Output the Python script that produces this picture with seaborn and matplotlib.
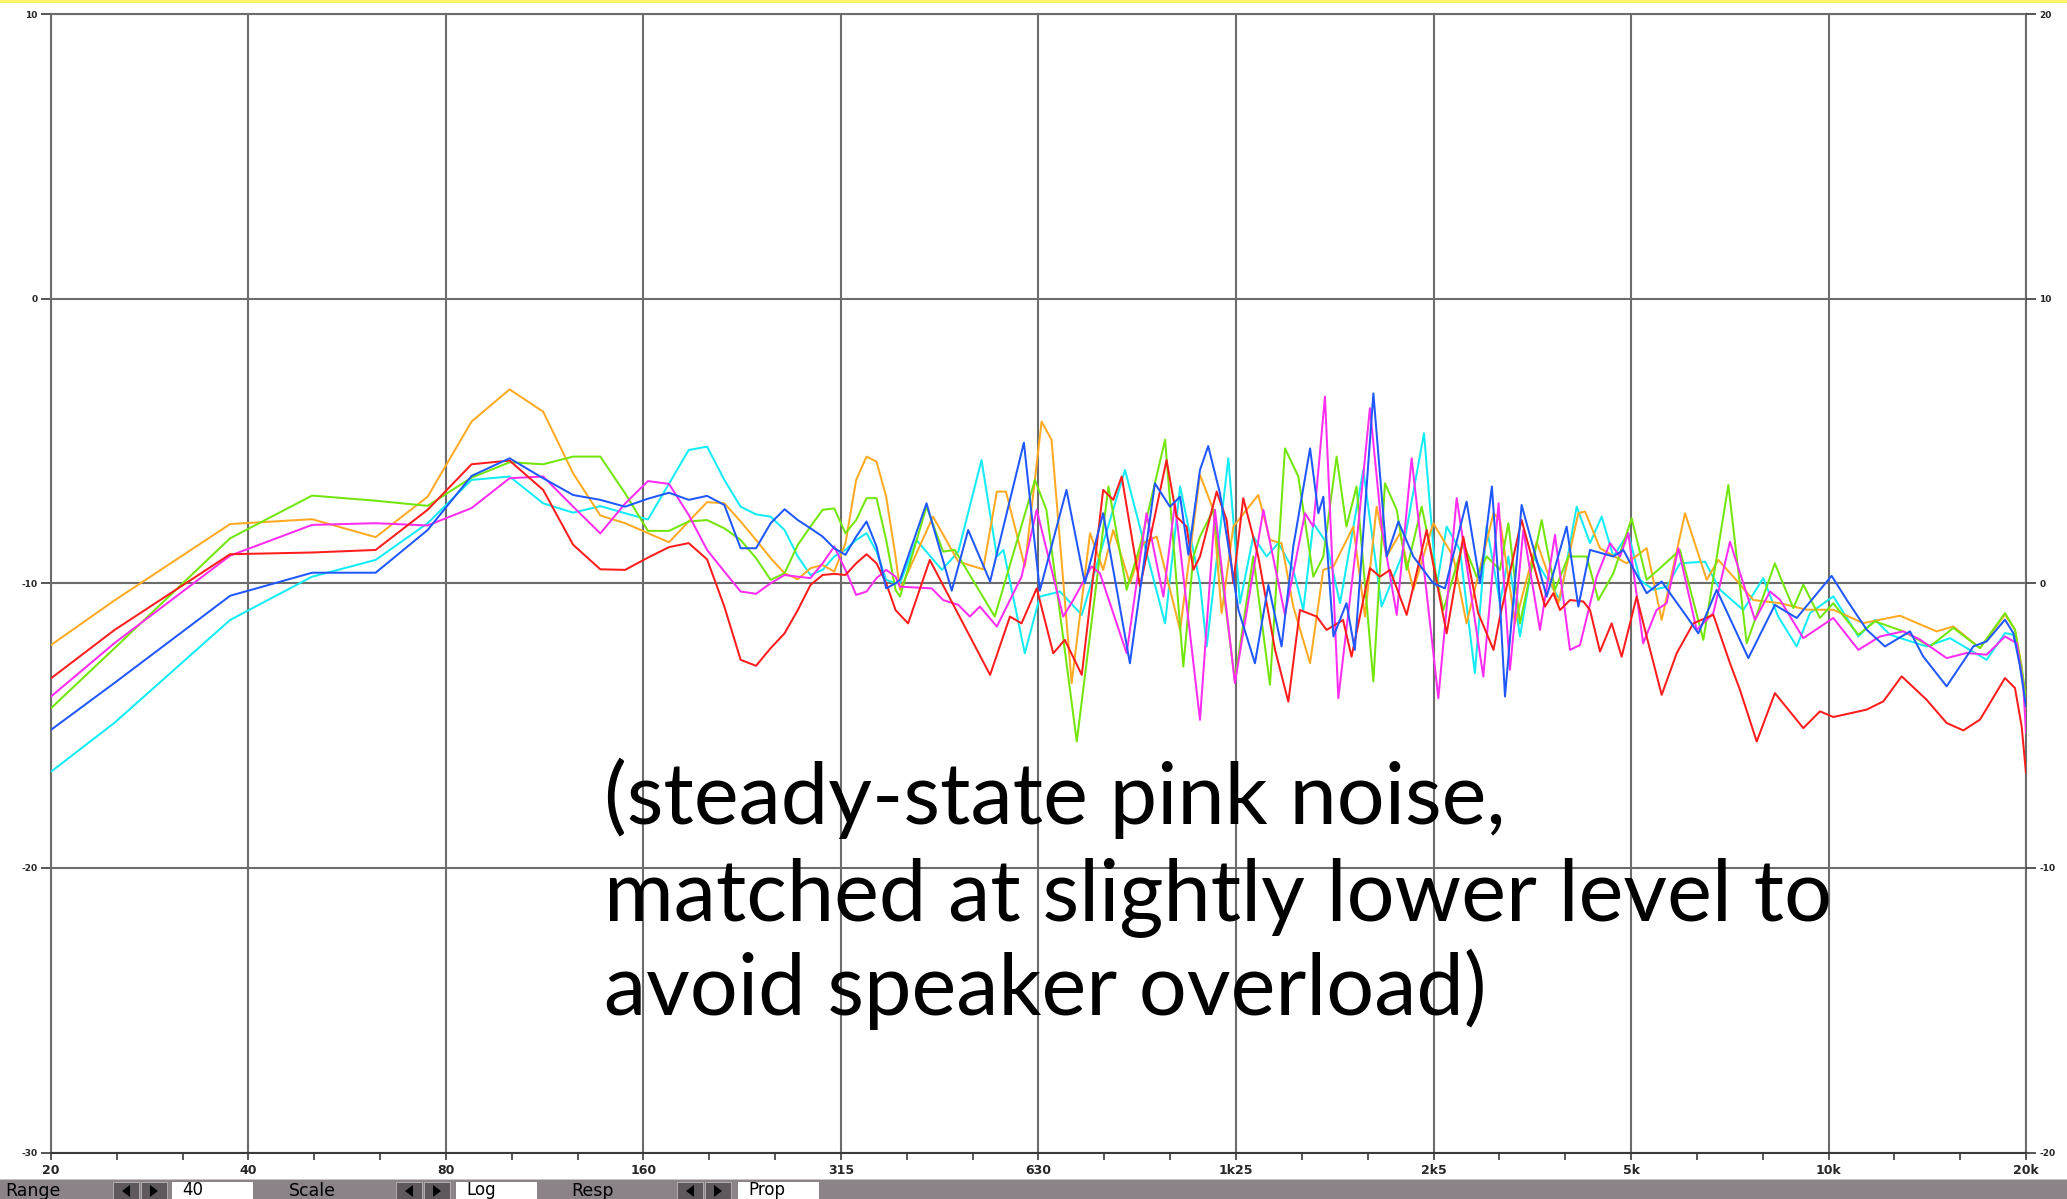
import matplotlib
matplotlib.use("Agg")
import matplotlib.pyplot as plt
from matplotlib.patches import Rectangle, Polygon
from matplotlib.ticker import FixedLocator, NullFormatter
import pandas as pd
import seaborn as sns

# ---------------- data ----------------
# low-frequency FFT bins (12.5 Hz spacing) shared by every trace
bin_hz = [20, 25, 37.5, 50, 62.5, 75, 87.5, 100, 112.5, 125, 137.5, 150, 162.5, 175,
          187.5, 200, 212.5, 225, 237.5, 250, 262.5, 275, 287.5, 300, 312.5, 325,
          337.5, 350, 362.5, 375, 387.5]

orange_low = [-12.17, -10.6, -7.92, -7.75, -8.38, -6.96, -4.32, -3.19, -3.97, -6.14, -7.62,
              -7.89, -8.24, -8.56, -7.83, -7.15, -7.19, -7.83, -8.48, -9.12, -9.65, -9.86,
              -9.47, -9.36, -9.59, -8.6, -6.37, -5.55, -5.73, -6.96, -9.06]
green_low = [-14.39, -12.28, -8.42, -6.92, -7.10, -7.28, -6.29, -5.75, -5.82, -5.55, -5.55,
             -6.84, -8.16, -8.16, -7.83, -7.78, -8.07, -8.48, -9.12, -9.88, -9.65, -8.65,
             -8.01, -7.42, -7.37, -8.24, -7.78, -7.01, -7.01, -8.48, -10.23]
red_low = [-13.34, -11.64, -8.98, -8.92, -8.83, -7.42, -5.82, -5.69, -6.72, -8.65, -9.51,
           -9.53, -9.1, -8.73, -8.59, -9.16, -10.82, -12.69, -12.9, -12.28, -11.76, -10.94,
           -10.06, -9.71, -9.67, -9.71, -9.3, -8.98, -9.3, -10.0, -10.94]
magenta_low = [-13.98, -12.1, -9.03, -7.95, -7.89, -7.97, -7.36, -6.31, -6.25, -7.31, -8.25,
               -7.2, -6.41, -6.51, -7.6, -8.83, -9.59, -10.29, -10.37, -10.0, -9.71, -9.77,
               -9.82, -9.3, -8.71, -9.53, -10.41, -10.29, -9.82, -9.53, -9.77]
blue_low = [-15.15, -13.5, -10.44, -9.63, -9.63, -8.13, -6.23, -5.61, -6.31, -6.9, -7.07,
            -7.31, -7.03, -6.82, -7.07, -6.93, -7.25, -8.77, -8.77, -7.89, -7.4, -7.78,
            -8.07, -8.36, -8.77, -9.0, -8.36, -7.83, -8.71, -10.18, -10.0]
cyan_low = [-16.62, -14.9, -11.29, -9.77, -9.18, -7.89, -6.37, -6.25, -7.19, -7.52, -7.29,
            -7.54, -7.76, -6.5, -5.32, -5.2, -6.37, -7.31, -7.58, -7.66, -8.13, -9.06,
            -9.71, -9.53, -9.06, -8.83, -8.48, -8.24, -8.89, -9.88, -10.0]

# smoothed response above ~390 Hz: turning points of each trace
orange_hi_hz = [393.6, 442, 483, 527, 553, 571, 610, 647, 670, 719, 767, 803, 832, 882, 925,
                969, 1052, 1102, 1128, 1182, 1217, 1268, 1384, 1442, 1502, 1565, 1660, 1739,
                1802, 1932, 2013, 2097, 2172, 2276, 2385, 2558, 2744, 2875, 3160, 3233, 3408,
                3677, 3968, 4256, 4357, 4592, 5042, 5409, 5702, 6189, 6677, 6957, 7332, 7866,
                8637, 9483, 10414, 11570, 13160, 14959, 15870, 17427, 19023, 19703, 20171, 20480]
orange_hi_db = [-10.23, -7.66, -9.24, -9.51, -6.78, -6.78, -9.41, -4.32, -4.96, -13.51, -8.24,
                -9.53, -8.13, -10.0, -8.59, -8.36, -11.64, -8.01, -6.19, -7.42, -11.05, -8.01,
                -6.9, -8.48, -8.59, -10.82, -12.81, -9.53, -9.41, -8.01, -11.17, -7.31, -9.06,
                -8.24, -10.23, -7.89, -9.06, -11.41, -7.54, -7.78, -11.41, -8.54, -10.7, -7.54,
                -7.48, -8.77, -9.3, -8.77, -11.29, -7.54, -9.88, -9.18, -9.77, -10.59, -10.7,
                -10.93, -10.93, -11.4, -11.14, -11.69, -11.52, -12.28, -11.1, -11.63, -12.92,
                -14.56]

green_hi_hz = [393.6, 432, 458, 477, 549, 632, 658, 732, 818, 872, 914, 998, 1064, 1102, 1128,
               1182, 1275, 1360, 1442, 1520, 1593, 1679, 1739, 1822, 1886, 1954, 2073, 2159,
               2250, 2330, 2456, 2650, 2842, 2979, 3086, 3233, 3329, 3468, 3742, 3921, 4109,
               4382, 4566, 4813, 5132, 5409, 5669, 6081, 6600, 7205, 7684, 8484, 8637, 9051,
               9374, 9939, 10414, 11371, 12056, 13315, 14622, 15870, 17427, 19023, 19703,
               20288, 20480]
green_hi_db = [-10.47, -7.31, -8.89, -8.83, -11.17, -6.37, -7.42, -15.56, -6.6, -10.23, -8.71,
               -4.96, -12.93, -9.06, -8.36, -7.42, -13.4, -9.06, -13.57, -5.26, -6.25, -9.77,
               -9.06, -5.55, -8.01, -6.6, -13.45, -6.49, -7.42, -9.53, -7.31, -10.94, -8.59,
               -9.77, -9.06, -9.53, -7.89, -11.41, -7.78, -10.23, -9.06, -9.06, -10.59, -9.65,
               -7.72, -9.88, -9.47, -8.83, -11.99, -6.55, -12.11, -9.3, -9.76, -10.87, -10.05,
               -11.22, -10.7, -11.81, -11.34, -11.69, -12.22, -11.57, -12.28, -11.05, -11.63,
               -13.39, -13.98]

red_hi_hz = [393.6, 405, 437, 540, 579, 603, 636, 674, 702, 745, 803, 832, 857, 914, 1003,
             1039, 1076, 1102, 1128, 1196, 1239, 1268, 1313, 1384, 1468, 1538, 1602, 1699,
             1759, 1864, 1920, 2048, 2122, 2197, 2330, 2499, 2681, 2842, 2995, 3160, 3233,
             3488, 3786, 3898, 3991, 4133, 4331, 4434, 4592, 4784, 4955, 5223, 5409, 5702,
             6010, 6372, 6835, 7247, 7506, 7959, 8484, 9374, 9939, 10414, 11708, 12413,
             13237, 14444, 15501, 16436, 17427, 19023, 19703, 20171, 20480]
red_hi_db = [-11.11, -11.41, -9.18, -13.22, -11.17, -11.41, -10.18, -12.46, -11.99, -13.22,
             -6.72, -7.07, -6.25, -10.12, -5.67, -7.66, -8.01, -9.53, -9.06, -6.78, -7.78,
             -10.0, -7.01, -9.06, -12.34, -14.16, -10.94, -11.17, -11.64, -11.29, -12.58,
             -9.47, -9.77, -9.53, -11.11, -8.13, -11.76, -8.36, -11.05, -12.34, -11.17, -7.78,
             -10.82, -10.35, -10.94, -10.59, -10.64, -10.94, -12.4, -11.41, -12.58, -10.47,
             -11.87, -13.92, -12.46, -11.41, -11.11, -12.81, -13.75, -15.56, -13.86, -15.09,
             -14.5, -14.7, -14.44, -14.15, -13.27, -14.09, -14.91, -15.17, -14.79, -13.33,
             -13.68, -15.03, -16.67]

magenta_hi_hz = [393.6, 440, 458, 483, 503, 521, 553, 603, 636, 698, 723, 771, 794, 872, 935,
                 992, 1033, 1128, 1189, 1275, 1409, 1520, 1631, 1679, 1749, 1833, 1954, 2048,
                 2134, 2250, 2371, 2604, 2777, 3049, 3217, 3348, 3509, 3720, 3921, 4133, 4281,
                 4539, 4756, 4926, 5072, 5343, 5600, 5802, 6045, 6447, 6835, 7247, 7912, 8340,
                 8637, 9374, 10414, 11371, 12269, 13315, 14117, 15501, 16630, 17839, 19023,
                 19819, 20288, 20480]
magenta_hi_db = [-10.12, -10.18, -10.59, -10.76, -11.17, -10.82, -11.52, -9.77, -7.42, -11.17,
                 -10.59, -9.41, -9.65, -12.46, -7.54, -10.47, -7.19, -14.8, -7.42, -13.51,
                 -7.42, -11.11, -7.54, -8.01, -3.44, -14.04, -8.59, -3.85, -8.01, -11.11,
                 -5.61, -14.04, -7.01, -13.28, -7.19, -13.04, -8.13, -11.64, -8.3, -12.34,
                 -12.17, -9.77, -8.59, -9.06, -8.24, -12.11, -10.94, -10.7, -8.77, -11.64,
                 -11.05, -8.54, -11.29, -10.29, -10.58, -11.93, -11.22, -12.34, -11.87,
                 -11.69, -11.98, -12.63, -12.45, -12.51, -11.87, -12.1, -13.62, -15.26]

blue_hi_hz = [393.6, 432, 472, 500, 540, 608, 643, 706, 753, 803, 882, 963, 1015, 1052, 1083,
              1128, 1161, 1210, 1291, 1368, 1434, 1502, 1565, 1660, 1709, 1739, 1802, 1886,
              1942, 2073, 2172, 2263, 2385, 2558, 2665, 2875, 3014, 3142, 3233, 3290, 3488,
              3808, 4085, 4256, 4434, 4813, 4984, 5409, 5702, 6225, 6485, 6916, 7729, 8484,
              9158, 10353, 10914, 11708, 12485, 13631, 14275, 15501, 17024, 17839, 19023,
              19588, 20054, 20480]
blue_hi_db = [-9.88, -7.19, -10.26, -8.13, -9.94, -5.06, -10.26, -6.72, -10.0, -7.54, -12.81,
              -6.49, -7.31, -6.96, -9.0, -6.02, -5.18, -6.84, -10.94, -12.81, -10.06, -12.22,
              -8.71, -5.26, -7.54, -6.96, -11.87, -10.7, -12.34, -3.33, -9.06, -7.83, -9.06,
              -10.0, -10.18, -7.13, -10.0, -6.6, -10.7, -13.98, -7.25, -10.47, -8.01, -10.82,
              -8.83, -9.06, -8.83, -10.35, -9.94, -11.17, -11.76, -10.23, -12.63, -10.76,
              -11.22, -9.74, -10.58, -11.63, -12.22, -11.69, -12.57, -13.62, -12.22, -12.04,
              -11.28, -11.75, -12.92, -14.33]

cyan_hi_hz = [393.6, 417, 456, 483, 524, 553, 566, 610, 643, 690, 745, 867, 998, 1052, 1128,
              1155, 1246, 1298, 1360, 1425, 1485, 1565, 1621, 1679, 1759, 1844, 2001, 2134,
              2289, 2476, 2588, 2681, 2809, 2960, 3086, 3233, 3329, 3468, 3634, 3991, 4231,
              4434, 4619, 4813, 5072, 5284, 5537, 5802, 6081, 6639, 6998, 7594, 8146, 8583,
              9158, 9596, 10414, 11371, 12056, 12707, 14444, 15685, 17839, 19023, 19588,
              20171, 20480]
cyan_hi_db = [-10.0, -8.48, -9.53, -8.89, -5.67, -9.06, -8.83, -12.46, -10.47, -10.29, -11.11,
              -6.02, -11.41, -6.6, -10.0, -12.22, -5.61, -10.7, -8.36, -9.06, -8.59, -9.53,
              -10.94, -7.89, -8.59, -10.7, -6.02, -10.82, -9.06, -4.73, -10.12, -8.01, -8.83,
              -13.16, -8.01, -10.7, -9.06, -11.87, -9.06, -10.59, -7.31, -8.59, -7.66, -9.06,
              -8.24, -9.88, -10.23, -10.12, -9.3, -9.24, -10.23, -10.94, -9.82, -11.17,
              -12.22, -11.05, -10.46, -11.87, -11.28, -11.81, -12.22, -11.93, -12.69, -11.75,
              -11.81, -12.92, -14.33]

octave_hz = [20, 40, 80, 160, 320, 640, 1280, 2560, 5120, 10240, 20480]
octave_labels = ["20", "40", "80", "160", "315", "630", "1k25", "2k5", "5k", "10k", "20k"]
left_ticks = [-30, -20, -10, 0, 10]
right_ticks = [-20, -10, 0, 10, 20]

note_lines = ["(steady-state pink noise,",
              "matched at slightly lower level to",
              "avoid speaker overload)"]

toolbar_items = [("Range", "40"), ("Scale", "Log"), ("Resp", "Prop")]

# ---------------- figure ----------------
W, H = 2067, 1199
sns.set_theme(style="white")
plt.rcParams["font.family"] = ["DejaVu Sans"]

fig = plt.figure(figsize=(W / 100, H / 100), dpi=100)
fig.patch.set_facecolor("white")

def fx(px):
    return px / W

def fy(py):
    return 1 - py / H

ax = fig.add_axes([fx(51), fy(1152.5), fx(2026 - 51), (1152.5 - 14) / H])
ax.set_facecolor("white")

traces = [
    ("cyan", "#12ecf4", cyan_low, cyan_hi_hz, cyan_hi_db),
    ("orange", "#ffaa22", orange_low, orange_hi_hz, orange_hi_db),
    ("green", "#72e60a", green_low, green_hi_hz, green_hi_db),
    ("magenta", "#ff2cf2", magenta_low, magenta_hi_hz, magenta_hi_db),
    ("red", "#ff1c1c", red_low, red_hi_hz, red_hi_db),
    ("blue", "#2058ff", blue_low, blue_hi_hz, blue_hi_db),
]

for name, color, low, hi_hz, hi_db in traces:
    df = pd.DataFrame({"hz": list(bin_hz) + list(hi_hz), "db": list(low) + list(hi_db)})
    sns.lineplot(data=df, x="hz", y="db", ax=ax, color=color, lw=1.45,
                 estimator=None, sort=False, legend=False, zorder=3)

ax.set_xscale("log", base=2)
ax.set_xlim(octave_hz[0], octave_hz[-1])
ax.set_ylim(left_ticks[0], left_ticks[-1])
ax.set_xlabel("")
ax.set_ylabel("")

grid_col = "#6c6c6c"
ax.xaxis.set_major_locator(FixedLocator(octave_hz))
ax.set_xticklabels(octave_labels)
third_oct = [octave_hz[0] * 2 ** (k / 3) for k in range(31) if k % 3]
ax.xaxis.set_minor_locator(FixedLocator(third_oct))
ax.xaxis.set_minor_formatter(NullFormatter())
ax.set_yticks(left_ticks)
ax.set_yticklabels([str(v) for v in left_ticks])
ax.grid(True, which="major", color=grid_col, lw=1.5, zorder=1)
ax.grid(False, which="minor")
ax.set_axisbelow(True)

for side, sp in ax.spines.items():
    sp.set_color(grid_col)
    sp.set_linewidth(1.5)
    sp.set_visible(True)
ax.spines["bottom"].set_color("#3a3a3a")

ax.tick_params(axis="x", which="both", direction="out", length=5, width=1.2,
               color="#3a3a3a", pad=3, labelsize=9, bottom=True)
for lbl in ax.get_xticklabels():
    lbl.set_fontweight("bold")
ax.tick_params(axis="y", which="major", direction="out", length=7.5, width=1.2,
               color="#3a3a3a", pad=2, labelsize=6.5, left=True)
for lbl in ax.get_yticklabels():
    lbl.set_fontweight("bold")

ax2 = ax.twinx()
ax2.set_ylim(right_ticks[0], right_ticks[-1])
ax2.set_yticks(right_ticks)
ax2.set_yticklabels([str(v) for v in right_ticks])
ax2.tick_params(axis="y", direction="out", length=7.5, width=1.2, color="#3a3a3a",
                pad=2, labelsize=6.5, right=True)
for lbl in ax2.get_yticklabels():
    lbl.set_fontweight("bold")
for sp in ax2.spines.values():
    sp.set_visible(False)
ax2.grid(False)

# annotation, three lines sized to span the measured width
note_x = fx(604)
baselines = [824, 920, 1015]
probe = fig.text(note_x, fy(baselines[1]), note_lines[1], fontsize=60,
                 family="Lato", va="baseline", ha="left")
fig.canvas.draw()
width_px = probe.get_window_extent().width
probe.remove()
note_size = 60 * 1229 / width_px
for line, base in zip(note_lines, baselines):
    fig.text(note_x, fy(base), line, fontsize=note_size, family="Lato",
             va="baseline", ha="left", color="black", zorder=10)

# top highlight strip
fig.add_artist(Rectangle((0, fy(3)), 1, 3 / H, transform=fig.transFigure,
                         facecolor="#fbf565", edgecolor="none", zorder=0))

# bottom control bar
bar_top = 1179
fig.add_artist(Rectangle((0, 0), 1, (H - bar_top) / H, transform=fig.transFigure,
                         facecolor="#8b8388", edgecolor="none", zorder=5))
fig.add_artist(Rectangle((0, fy(bar_top + 1)), 1, 1 / H, transform=fig.transFigure,
                         facecolor="#c9c3c6", edgecolor="none", zorder=6))

group_x = [(5, 113, 172), (289, 396, 456), (571, 677, 738)]
for (label, value), (lx, bx, vx) in zip(toolbar_items, group_x):
    fig.text(fx(lx), fy(1196), label, fontsize=12.5, color="black",
             va="baseline", ha="left", zorder=7)
    for k in range(2):
        x0 = bx + k * 28
        fig.add_artist(Rectangle((fx(x0), 0), fx(26), (H - 1182) / H,
                                 transform=fig.transFigure, facecolor="#5f585d",
                                 edgecolor="#bdb7ba", lw=0.6, zorder=7))
        cx = x0 + 13
        if k == 0:
            pts = [(cx + 4, 1185), (cx + 4, 1197), (cx - 4, 1191)]
        else:
            pts = [(cx - 4, 1185), (cx - 4, 1197), (cx + 4, 1191)]
        fig.add_artist(Polygon([(fx(a), fy(b)) for a, b in pts], closed=True,
                               transform=fig.transFigure, facecolor="black",
                               edgecolor="none", zorder=8))
    fig.add_artist(Rectangle((fx(vx), 0), fx(81), (H - 1182) / H,
                             transform=fig.transFigure, facecolor="white",
                             edgecolor="none", zorder=7))
    fig.text(fx(vx + 10), fy(1195), value, fontsize=12, color="black",
             va="baseline", ha="left", zorder=8)

fig.savefig("out.png", dpi=100, facecolor=fig.get_facecolor())
